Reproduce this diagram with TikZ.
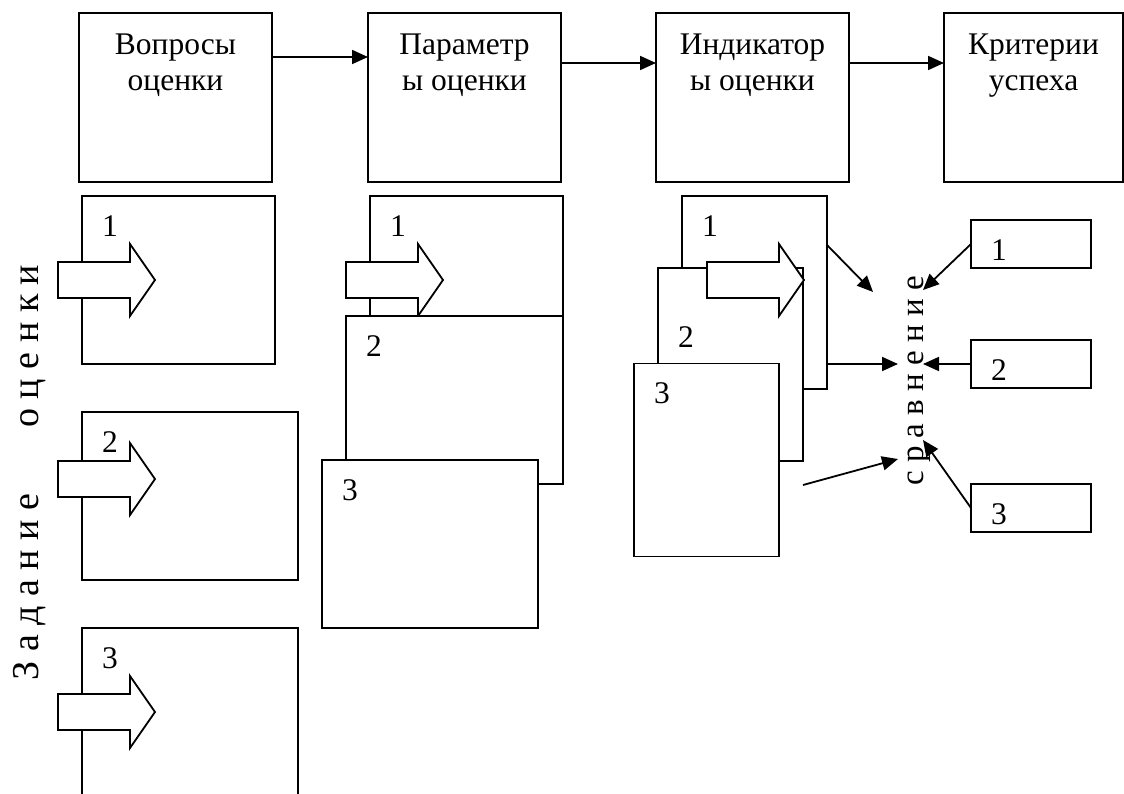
\documentclass[tikz,border=0pt]{standalone}
\usepackage{fontspec}
\setmainfont{Liberation Serif}
\usepackage{tikz}
\usetikzlibrary{arrows.meta, positioning}

\newcommand{\blockarrow}[1]{\draw[bigarrow] (#1) ++(0,-18) -- ++(72,0) -- ++(0,-18) -- ++(25,36) -- ++(-25,36) -- ++(0,-18) -- ++(-72,0) -- cycle;}

\begin{document}
\begin{tikzpicture}[x=1pt, y=-1pt]
        \tikzstyle{box} = [rectangle, draw=black, fill=white, line width=1.8pt, inner sep=0pt, outer sep=0pt]
        \tikzstyle{topbox} = [box, minimum width=193pt, minimum height=169pt]
        \tikzstyle{task} = [box, minimum width=216pt, minimum height=168pt]
        \tikzstyle{indbox} = [box, minimum width=145pt, minimum height=193pt]
        \tikzstyle{critbox} = [box, minimum width=120pt, minimum height=48pt]
        \tikzstyle{boxtitle} = [anchor=north, align=center, yshift=-17pt, font=\fontsize{31.5}{36}\selectfont]
        \tikzstyle{num} = [anchor=center, xshift=28pt, yshift=-30pt, font=\fontsize{31.5}{36}\selectfont]
        \tikzstyle{bigarrow} = [draw=black, fill=white, line width=1.8pt]
        \tikzstyle{arrow} = [line width=1.8pt, -{Triangle[length=16pt, width=14pt]}]
        \tikzstyle{vtext} = [rotate=90, anchor=base, inner sep=0pt]

        \useasboundingbox (0,0) rectangle (1124,794);

        % top row
        \node (vopr) [topbox, label={[boxtitle]north:{Вопросы\\оценки}}] at (175.5,97.5) {};
        \node (param) [topbox, right=96pt of vopr, label={[boxtitle]north:{Параметр\\ы оценки}}] {};
        \node (ind) [topbox, right=95pt of param, label={[boxtitle]north:{Индикатор\\ы оценки}}] {};
        \node (krit) [topbox, minimum width=179pt, right=95pt of ind, label={[boxtitle]north:{Критерии\\успеха}}] {};

        % tasks
        \node (vz1) [task, minimum width=193pt, label={[num]north west:1}] at (178.5,280) {};
        \blockarrow{[xshift=-24pt]vz1.west}
        \node (vz2) [task, label={[num]north west:2}] at (190,496) {};
        \blockarrow{[xshift=-24pt, yshift=17pt]vz2.west}
        \node (vz3) [task, label={[num]north west:3}] at (190,712) {};
        \blockarrow{[xshift=-24pt]vz3.west}

        % parameters
        \node (par1) [task, minimum width=193pt, label={[num]north west:1}] at (466.5,280) {};
        \blockarrow{[xshift=-24pt]par1.west}
        \node (par2) [task, minimum width=217pt, label={[num]north west:2}] at (454.5,400) {};
        \node (par3) [task, label={[num]north west:3}] at (430,544) {};

        % indicators
        \node (ind1) [indbox, label={[num]north west:1}] at (754.5,292.5) {};
        \node (ind2) [indbox, label={[num, yshift=-39pt]north west:2}] at (730.5,364.5) {};
        \blockarrow{[xshift=25pt, yshift=12.5pt]ind1.west}
        \node (ind3) [indbox, label={[num]north west:3}] at (706.5,460) {};

        % criteria
        \node (kr1) [critbox, label={[num]north west:1}] at (1031,244) {};
        \node (kr2) [critbox, label={[num]north west:2}] at (1031,364) {};
        \node (kr3) [critbox, label={[num]north west:3}] at (1031,508) {};

        \node (zadanie) [vtext, font=\fontsize{38}{44}\selectfont] at (38,472.5) {З а д а н и е\hspace{1.74em}о ц е н к и};
        \node (sravn) [vtext, font=\fontsize{33}{38}\selectfont] at (923,381) {с р а в н е н и е};

        \coordinate (cmp1) at (873,292);
        \coordinate (cmp2) at (898,364);
        \coordinate (cmp3) at (898,459);
        \coordinate (cmp4) at (923,290);
        \coordinate (cmp5) at (923,364);
        \coordinate (cmp6) at (923,440);

        \draw [arrow] ([yshift=-44pt]vopr.north east) -- ([yshift=-44pt]param.north west);
        \draw [arrow] ([yshift=-50pt]param.north east) -- ([yshift=-50pt]ind.north west);
        \draw [arrow] ([yshift=-50pt]ind.north east) -- ([yshift=-50pt]krit.north west);
        \draw [arrow] ([yshift=-49pt]ind1.north east) -- (cmp1);
        \draw [arrow] ([yshift=25pt]ind1.south east) -- (cmp2);
        \draw [arrow] ([yshift=-24pt]ind2.south east) -- (cmp3);
        \draw [arrow] (kr1.west) -- (cmp4);
        \draw [arrow] (kr2.west) -- (cmp5);
        \draw [arrow] (kr3.west) -- (cmp6);
\end{tikzpicture}
\end{document}
